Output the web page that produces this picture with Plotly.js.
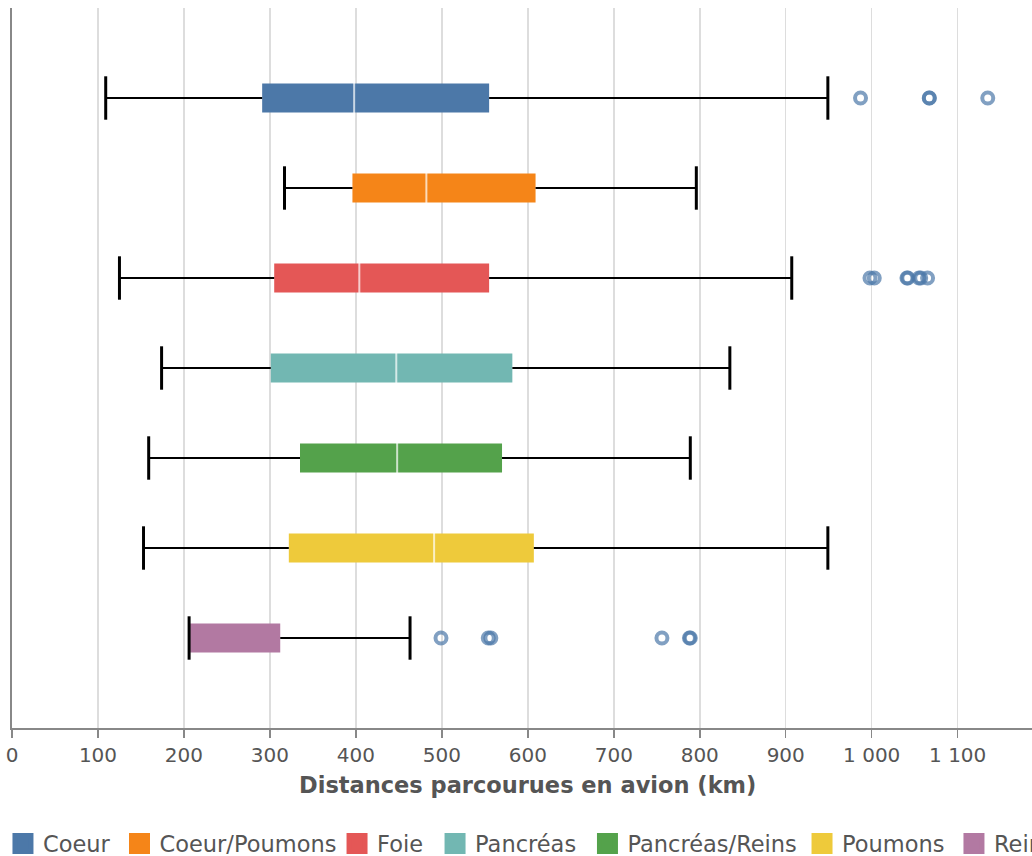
<!DOCTYPE html>
<html>
<head>
<meta charset="utf-8">
<script src="https://cdn.plot.ly/plotly-3.0.1.min.js"></script>
<style>
  html, body { margin: 0; padding: 0; overflow: hidden; background: #fff; }
  #chart { width: 1200px; height: 856px; }
</style>
</head>
<body>
<div id="chart"></div>
<script>
// ---- Data ----
const categories = ['Coeur', 'Coeur/Poumons', 'Foie', 'Pancréas', 'Pancréas/Reins', 'Poumons', 'Reins'];
const mins    = [109, 317, 125, 174, 159, 153, 206];
const q1s     = [291, 396, 305, 301, 335, 322, 206];
const medians = [398, 482, 404, 447, 448, 491, 206];
const q3s     = [555, 609, 555, 582, 570, 607, 312];
const maxs    = [949, 796, 907, 835, 789, 949, 463];
const outliersCoeur = [987, 1067, 1067, 1135];
const outliersFoie  = [998, 1003, 1041, 1042, 1055, 1057, 1065];
const outliersReins = [499, 554, 557, 756, 788, 789];
const tickValues = [0, 100, 200, 300, 400, 500, 600, 700, 800, 900, 1000, 1100];
const xTitle = 'Distances parcourues en avion (km)';

// ---- Styles ----
const colors = ['#4c78a8', '#f58518', '#e45756', '#72b7b2', '#54a24b', '#eeca3b', '#b279a2'];
const legendX = [-0.0076, 0.0905, 0.2736, 0.3561, 0.4844, 0.665, 0.7929];
const FONT = 'DejaVu Sans';
const TEXT = '#555';

const traces = [];

// Boxes (Q1..Q3) as horizontal bars
categories.forEach((c, i) => {
  traces.push({
    type: 'bar', orientation: 'h',
    y: [c], base: [q1s[i]], x: [q3s[i] - q1s[i]],
    width: 0.32,
    marker: { color: colors[i], line: { width: 0 } },
    showlegend: false, hoverinfo: 'skip'
  });
});

// Whiskers
const wx = [], wy = [];
categories.forEach((c, i) => {
  wx.push(mins[i], q1s[i], null, q3s[i], maxs[i], null);
  wy.push(c, c, null, c, c, null);
});
traces.push({
  type: 'scatter', mode: 'lines', x: wx, y: wy,
  line: { color: '#000', width: 2 }, showlegend: false, hoverinfo: 'skip', connectgaps: false
});

// Medians
traces.push({
  type: 'scatter', mode: 'markers', x: medians, y: categories,
  marker: { symbol: 'line-ns', size: 29, color: 'rgba(255,255,255,0.7)', line: { width: 2, color: 'rgba(255,255,255,0.7)' } },
  showlegend: false, hoverinfo: 'skip'
});

// Whisker caps
traces.push({
  type: 'scatter', mode: 'markers', x: mins.concat(maxs), y: categories.concat(categories),
  marker: { symbol: 'line-ns', size: 31, color: '#000', line: { width: 3, color: '#000' } },
  showlegend: false, hoverinfo: 'skip'
});

// Outliers
const ox = [].concat(outliersCoeur, outliersFoie, outliersReins);
const oy = [].concat(
  outliersCoeur.map(() => 'Coeur'),
  outliersFoie.map(() => 'Foie'),
  outliersReins.map(() => 'Reins')
);
traces.push({
  type: 'scatter', mode: 'markers', x: ox, y: oy,
  marker: { symbol: 'circle-open', size: 11, color: '#4c78a8', opacity: 0.7, line: { width: 4, color: '#4c78a8' } },
  showlegend: false, hoverinfo: 'skip'
});

// Legend entries (one legend box per entry, placed like the reference)
categories.forEach((c, i) => {
  traces.push({
    type: 'scatter', mode: 'markers', x: [null], y: [null], name: c,
    legend: i === 0 ? 'legend' : 'legend' + (i + 1),
    marker: { symbol: 'square', size: 16, color: colors[i], line: { color: colors[i], width: 5 } },
    showlegend: true, hoverinfo: 'skip'
  });
});

const pxPerKm = 0.8597;
const plotW = 1200 - 12;

const layout = {
  width: 1200, height: 856,
  margin: { l: 12, r: 0, t: 8, b: 128, autoexpand: false },
  paper_bgcolor: '#fff', plot_bgcolor: '#fff',
  separators: ', ',
  barmode: 'overlay',
  font: { family: FONT, size: 20, color: TEXT },
  xaxis: {
    range: [0, plotW / pxPerKm],
    tickvals: tickValues,
    separatethousands: true,
    showgrid: true, gridcolor: '#ddd', gridwidth: 1.5,
    zeroline: false,
    showline: true, linecolor: '#888', linewidth: 2,
    ticks: 'outside', ticklen: 8, tickwidth: 1.5, tickcolor: '#888',
    tickfont: { family: FONT, size: 20, color: TEXT }
  },
  yaxis: {
    type: 'category',
    categoryorder: 'array', categoryarray: categories,
    range: [7, -1],
    showgrid: false, zeroline: false,
    showline: true, linecolor: '#888', linewidth: 2,
    showticklabels: false, ticks: ''
  },
  showlegend: true,
  annotations: [{
    text: '<b>' + xTitle + '</b>', xref: 'x', yref: 'paper', x: 600, y: -0.079,
    xanchor: 'center', yanchor: 'middle', showarrow: false,
    font: { family: FONT, size: 22.5, color: TEXT }
  }]
};

categories.forEach((c, i) => {
  const key = i === 0 ? 'legend' : 'legend' + (i + 1);
  layout[key] = {
    orientation: 'h', x: legendX[i], xanchor: 'left', y: -0.131, yanchor: 'top',
    font: { family: FONT, size: 22.5, color: TEXT },
    itemsizing: 'trace', itemwidth: 30, bgcolor: 'rgba(0,0,0,0)'
  };
});

Plotly.newPlot('chart', traces, layout, { displayModeBar: false, staticPlot: true });
</script>
</body>
</html>
